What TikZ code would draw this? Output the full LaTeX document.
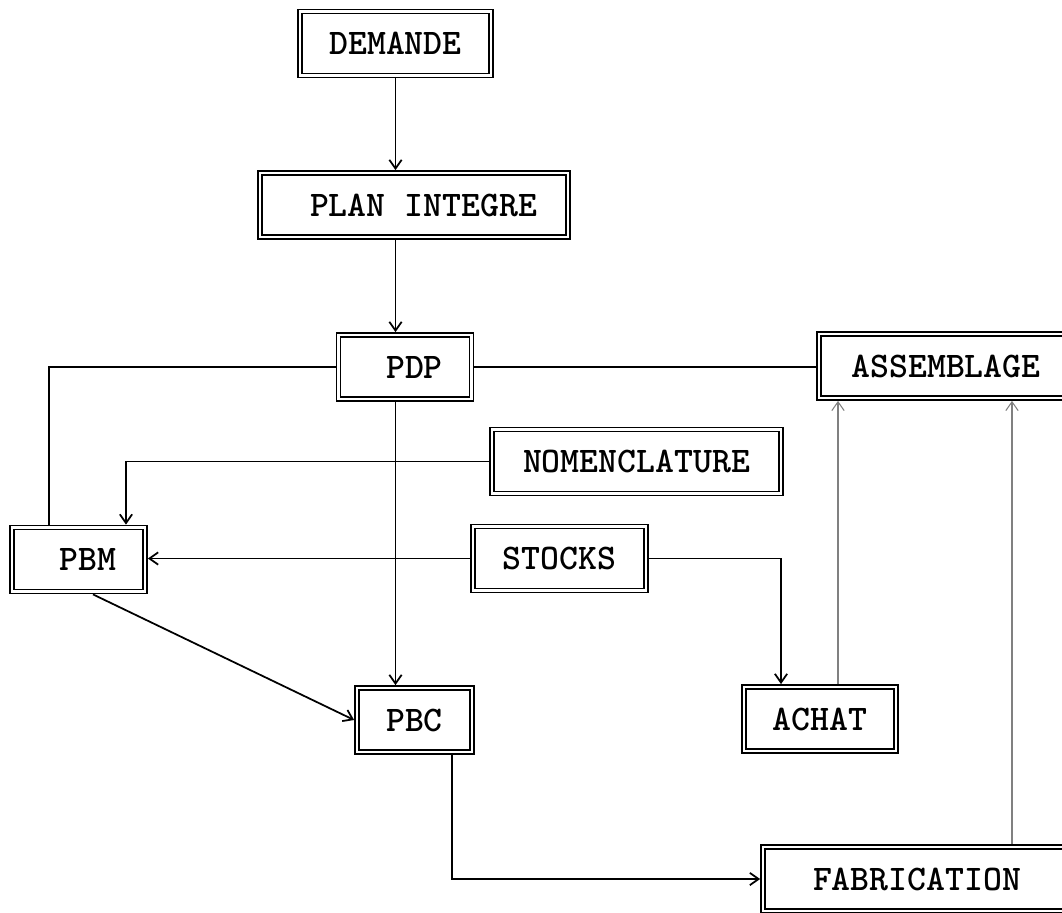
\documentclass[tikz,border=0pt]{standalone}
\usetikzlibrary{positioning,arrows.meta}
\begin{document}
\begin{tikzpicture}[
    x=0.02cm, y=-0.02cm,
    >={Straight Barb[length=5pt,width=7pt]},
    box/.style={
        draw,
        double,
        double distance=1.5pt,
        line width=0.9pt,
        outer sep=1.65pt,
        inner sep=0pt,
        font=\fontsize{20.5}{24}\selectfont\ttfamily\bfseries,
        minimum height=1.28cm
    },
    arrow/.style={->, line width=1pt},
    link/.style={line width=1pt},
    feed/.style={->, gray, line width=0.6pt}
]
\clip (0,0) rectangle (1062,913);

% BOXES
\node[box, minimum width=3.82cm] (demande) at (395.5,43.5) {DEMANDE};

\node[box, minimum width=6.16cm] (plan) at (414,205) {~PLAN INTEGRE};

\node[box, minimum width=2.66cm] (pdp) at (405,367) {~PDP};

\node[box, minimum width=5.08cm] (assemblage) at (946,366) {ASSEMBLAGE};

\node[box, minimum width=5.78cm] (nomenclature) at (636.5,461.5) {NOMENCLATURE};

\node[box, minimum width=2.66cm] (pbm) at (78.5,559.5) {~PBM};

\node[box, minimum width=3.46cm] (stocks) at (559.5,558.5) {STOCKS};

\node[box, minimum width=2.30cm] (pbc) at (414.5,720) {PBC};

\node[box, minimum width=3.04cm] (achat) at (820,719) {ACHAT};

\node[box, minimum width=6.16cm] (fabrication) at (917,879) {FABRICATION};

% MAIN FLOW
\draw[arrow] (demande.south) -- (demande.south |- plan.north);
\draw[arrow] (plan.south -| demande.south) -- (pdp.north -| demande.south);
\draw[arrow] (pdp.south -| demande.south) -- (pbc.north -| demande.south);

% PDP LINKS
\draw[link] (pdp.west) -| ([xshift=-0.59cm]pbm.north);
\draw[link] (pdp.east) -- (pdp.east -| assemblage.west);

% NOMENCLATURE AND STOCKS
\draw[arrow] (nomenclature.west) -| ([xshift=0.95cm]pbm.north);
\draw[arrow] (stocks.west) -- (stocks.west -| pbm.east);
\draw[arrow] (stocks.east) -| ([xshift=-0.78cm]achat.north);

% PBM, PBC
\draw[arrow] ([xshift=0.29cm]pbm.south) -- (pbc.west);
\draw[arrow] ([xshift=0.75cm]pbc.south) |- (fabrication.west);

% TO ASSEMBLAGE
\draw[feed] ([xshift=0.36cm]achat.north) -- ([xshift=0.36cm]achat.north |- assemblage.south);
\draw[feed] ([xshift=1.9cm]fabrication.north) -- ([xshift=1.9cm]fabrication.north |- assemblage.south);

\end{tikzpicture}
\end{document}
